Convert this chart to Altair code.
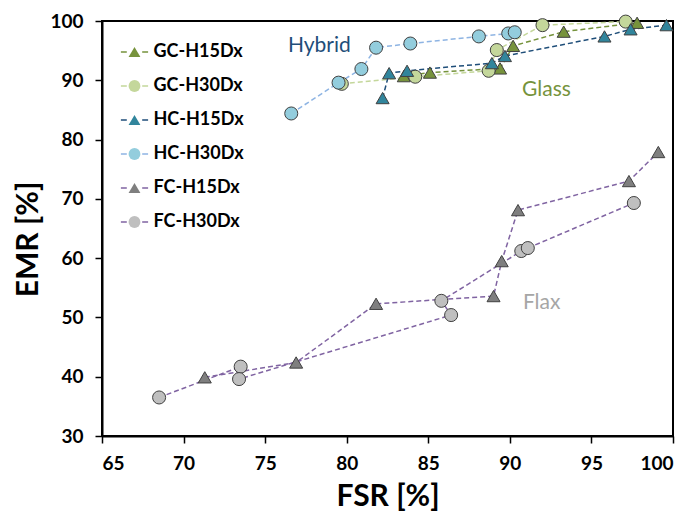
import altair as alt
import pandas as pd

series_names = ["GC-H15Dx", "GC-H30Dx", "HC-H15Dx", "HC-H30Dx", "FC-H15Dx", "FC-H30Dx"]

gc15_x = [83.5, 85.1, 89.4, 90.2, 93.3, 97.8]
gc15_y = [90.7, 91.3, 92.0, 95.8, 98.2, 99.7]
gc30_x = [79.7, 84.2, 88.7, 89.2, 92.0, 97.1]
gc30_y = [89.4, 90.6, 91.6, 95.1, 99.3, 99.9]
hc15_x = [82.2, 82.6, 83.7, 88.9, 89.7, 95.8, 97.4, 99.6]
hc15_y = [87.0, 91.2, 91.6, 92.9, 94.1, 97.4, 98.6, 99.3]
hc30_x = [76.6, 79.5, 80.9, 81.8, 83.9, 88.1, 89.9, 90.3]
hc30_y = [84.4, 89.6, 91.9, 95.5, 96.2, 97.4, 97.9, 98.1]
fc15_x = [71.3, 76.9, 81.8, 89.0, 89.5, 90.5, 97.3, 99.1]
fc15_y = [39.9, 42.4, 52.3, 53.6, 59.5, 68.1, 73.0, 77.9]
fc30_x = [68.5, 73.5, 73.4, 86.4, 85.8, 90.7, 91.1, 97.6]
fc30_y = [36.5, 41.7, 39.6, 50.4, 52.8, 61.2, 61.7, 69.3]

xs_all = [gc15_x, gc30_x, hc15_x, hc30_x, fc15_x, fc30_x]
ys_all = [gc15_y, gc30_y, hc15_y, hc30_y, fc15_y, fc30_y]

line_colors = ["#76933c", "#c4d79b", "#1f4e79", "#8eb4e3", "#8064a2", "#8064a2"]
marker_fills = ["#77933c", "#c4d79b", "#31859c", "#93cddd", "#7f7f7f", "#bfbfbf"]
marker_shapes = ["triangle-up", "circle", "triangle-up", "circle", "triangle-up", "circle"]

line_names = [n + " line" for n in series_names]

rows = []
for name, lname, xs, ys in zip(series_names, line_names, xs_all, ys_all):
    for i, (a, b) in enumerate(zip(xs, ys)):
        rows.append({"series": name, "series_line": lname, "idx": i, "FSR": a, "EMR": b})
df = pd.DataFrame(rows)

FONT = "Lato"

x_scale = alt.Scale(domain=[65, 100], nice=False, zero=False)
y_scale = alt.Scale(domain=[30, 100], nice=False, zero=False)

x_axis = alt.Axis(title="FSR [%]", values=list(range(65, 101, 5)), grid=False,
                  labelPadding=11, titlePadding=8)
y_axis = alt.Axis(title="EMR [%]", values=list(range(30, 101, 10)), grid=False,
                  labelPadding=12, titlePadding=6, titleY=218)

LEG_X = 23.5
LEG_Y = 22

legend_lines = alt.Legend(
    title=None, orient="none", legendX=LEG_X, legendY=LEG_Y, padding=0,
    symbolType="M-2.3,0H-1.3M1.3,0H2.3", symbolSize=140, symbolStrokeWidth=1.5,
    labelExpr="''", labelFont=FONT, labelFontSize=18, labelFontWeight="bold",
    rowPadding=16, labelOffset=10,
)
legend_marks = alt.Legend(
    title=None, orient="none", legendX=LEG_X, legendY=LEG_Y, padding=0,
    symbolSize=140, symbolStrokeColor="#404040", symbolStrokeWidth=1, symbolOpacity=1,
    labelFont=FONT, labelFontSize=18, labelFontWeight="bold", labelColor="black",
    rowPadding=16, labelOffset=10,
)

lines = alt.Chart(df).mark_line(strokeDash=[5, 3], strokeWidth=1.5).encode(
    x=alt.X("FSR:Q", scale=x_scale, axis=x_axis),
    y=alt.Y("EMR:Q", scale=y_scale, axis=y_axis),
    color=alt.Color("series_line:N", scale=alt.Scale(domain=line_names, range=line_colors),
                    legend=legend_lines),
    order=alt.Order("idx:Q"),
)

points = alt.Chart(df).mark_point(filled=True, size=170, stroke="#404040", strokeWidth=1, opacity=1).encode(
    x=alt.X("FSR:Q", scale=x_scale),
    y=alt.Y("EMR:Q", scale=y_scale),
    fill=alt.Fill("series:N", scale=alt.Scale(domain=series_names, range=marker_fills),
                  legend=legend_marks),
    shape=alt.Shape("series:N", scale=alt.Scale(domain=series_names, range=marker_shapes),
                    legend=legend_marks),
)

def note(label, x, y, color):
    return alt.Chart(pd.DataFrame({"t": [label]})).mark_text(
        align="left", baseline="middle", font=FONT, fontSize=21, color=color
    ).encode(x=alt.datum(x), y=alt.datum(y), text="t:N")

t1 = note("Hybrid", 76.4, 95.7, "#1f4e79")
t2 = note("Glass", 90.75, 88.4, "#76933c")
t3 = note("Flax", 90.8, 52.4, "#a6a6a6")

chart = alt.layer(lines, points, t1, t2, t3).properties(
    width=571, height=415,
    autosize=alt.AutoSizeParams(type="none"),
    padding={"left": 94, "top": 13, "right": 5, "bottom": 77},
).configure_view(
    stroke="black", strokeWidth=2
).configure_axis(
    labelFont=FONT, labelFontWeight="bold", labelFontSize=19, labelColor="black",
    titleFont=FONT, titleFontWeight="bold", titleFontSize=30, titleColor="black",
    tickColor="black", tickSize=7, tickWidth=1.5, domainColor="black", domainWidth=2,
)

chart.save("out.html", embed_options={"renderer": "svg", "actions": False})
